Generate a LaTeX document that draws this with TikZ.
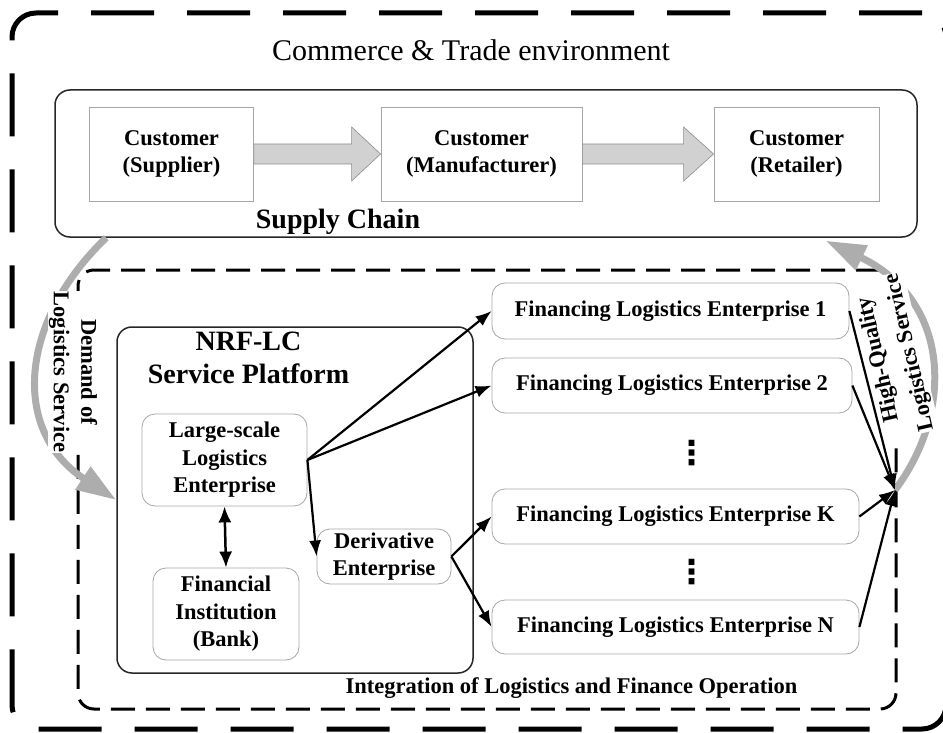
\documentclass[tikz,border=0pt]{standalone}
\usepackage{fontspec}
\setmainfont{Liberation Serif}
\newfontfamily\dejavu{DejaVu Sans}
\usetikzlibrary{calc,arrows.meta}
\begin{document}
\begin{tikzpicture}[x=1pt,y=-1pt,
  txt/.style={font=\bfseries\fontsize{22.5}{27.5}\selectfont, align=center},
  ttl/.style={font=\bfseries\fontsize{28}{33}\selectfont, align=center},
  custbox/.style={draw=black!35, line width=0.8pt, txt, inner sep=0pt},
  gbox/.style={draw=black!35, line width=0.8pt, rounded corners=13pt, txt, inner sep=0pt},
  blk/.style={draw=black!85, line width=1.5pt, rounded corners=15pt},
  outerdash/.style={draw=black, line width=5pt, dash pattern=on 63pt off 33pt, rounded corners=24pt},
  innerdash/.style={draw=black, line width=3pt, dash pattern=on 24pt off 11pt, rounded corners=16pt},
  conn/.style={line width=2.2pt, -{Latex[length=16pt,width=12pt]}},
  blockarr/.style={fill=black!18, draw=black!45, line width=0.6pt},
  greyarc/.style={draw=black!32, line width=7pt, -{Triangle[length=40pt,width=26pt]}},
  sidelabel/.style={txt, fill=white, inner sep=1pt},
  dotsty/.style={font=\dejavu\bfseries\fontsize{33}{33}\selectfont, inner sep=0pt}
]
\useasboundingbox (0,0) rectangle (943,733);

% containers
\node[outerdash, minimum width=934pt, minimum height=716pt] (outer) at (479,371) {};
\node[font=\fontsize{30}{36}\selectfont] (title) at (471,50) {Commerce \& Trade environment};

\node[blk, minimum width=862pt, minimum height=147pt] (sc) at (486,163.5) {};
\node[ttl] (sclabel) at (338,222) {Supply Chain};

\node[custbox, minimum width=164pt, minimum height=94pt] (sup) at (171.5,154) {Customer\\(Supplier)};
\node[custbox, minimum width=201pt, minimum height=94pt] (man) at (481.5,154) {Customer\\(Manufacturer)};
\node[custbox, minimum width=165pt, minimum height=94pt] (ret) at (796.5,154) {Customer\\(Retailer)};

\draw[blockarr] ($(sup.east)+(0,-10)$) -- ($(man.west)+(-29,-10)$) -- ($(man.west)+(-29,-27)$) -- (man.west)
  -- ($(man.west)+(-29,27)$) -- ($(man.west)+(-29,10)$) -- ($(sup.east)+(0,10)$) -- cycle;
\draw[blockarr] ($(man.east)+(0,-10)$) -- ($(ret.west)+(-30,-10)$) -- ($(ret.west)+(-30,-27)$) -- (ret.west)
  -- ($(ret.west)+(-30,27)$) -- ($(ret.west)+(-30,10)$) -- ($(man.east)+(0,10)$) -- cycle;

\node[innerdash, minimum width=818pt, minimum height=439pt] (integ) at (487,489.5) {};
\node[txt] (integlabel) at (571.5,688) {Integration of Logistics and Finance Operation};

\node[blk, minimum width=356pt, minimum height=346pt] (nrf) at (295,500) {};
\node[ttl] (nrflabel) at (248.5,358) {NRF-LC\\Service Platform};

\node[gbox, minimum width=165pt, minimum height=92pt] (ls) at (224.5,460) {Large-scale\\Logistics\\Enterprise};
\node[gbox, minimum width=146pt, minimum height=92pt] (fi) at (226,614) {Financial\\Institution\\(Bank)};
\node[gbox, minimum width=134pt, minimum height=55pt] (der) at (384,556.5) {Derivative\\Enterprise};

\node[gbox, minimum width=357pt, minimum height=56pt] (f1) at (670.5,311) {Financing Logistics Enterprise 1};
\node[gbox, minimum width=360pt, minimum height=55pt] (f2) at (672,385.5) {Financing Logistics Enterprise 2};
\node[gbox, minimum width=367pt, minimum height=55pt] (fk) at (675.5,516.5) {Financing Logistics Enterprise K};
\node[gbox, minimum width=367pt, minimum height=54pt] (fn) at (675.5,627) {Financing Logistics Enterprise N};

\node[dotsty] (dots1) at (692,453) {⋮};
\node[dotsty] (dots2) at (692,572) {⋮};

\coordinate (conv) at (895,490);

% grey service arcs
\draw[greyarc] ($(sc.south west)+(52,0)$) .. controls (20,320) and (10,430) .. (nrf.west);
\draw[greyarc] (conv) .. controls (955,410) and (950,300) .. ($(sc.south east)+(-92,3)$);

% side labels
\node[sidelabel, rotate=-90] (demand) at (73,372) {Demand of\\Logistics Service};
\node[sidelabel, rotate=103, font=\bfseries\fontsize{22.5}{32}\selectfont] (hq) at (895,356) {High-Quality\\Logistics Service};

% black connectors
\draw[conn] (ls.east) -- (f1.west);
\draw[conn] (ls.east) -- (f2.west);
\draw[conn] (ls.east) -- (der.west);
\draw[conn] (der.east) -- (fk.west);
\draw[conn] (der.east) -- (fn.west);
\draw[conn] (f1.east) -- (conv);
\draw[conn] (f2.east) -- (conv);
\draw[conn] (fk.east) -- (conv);
\draw[conn] (fn.east) -- (conv);
\draw[line width=2.5pt, {Latex[length=16pt,width=13pt]}-{Latex[length=16pt,width=13pt]}] (ls.south) -- (fi.north);
\end{tikzpicture}
\end{document}
